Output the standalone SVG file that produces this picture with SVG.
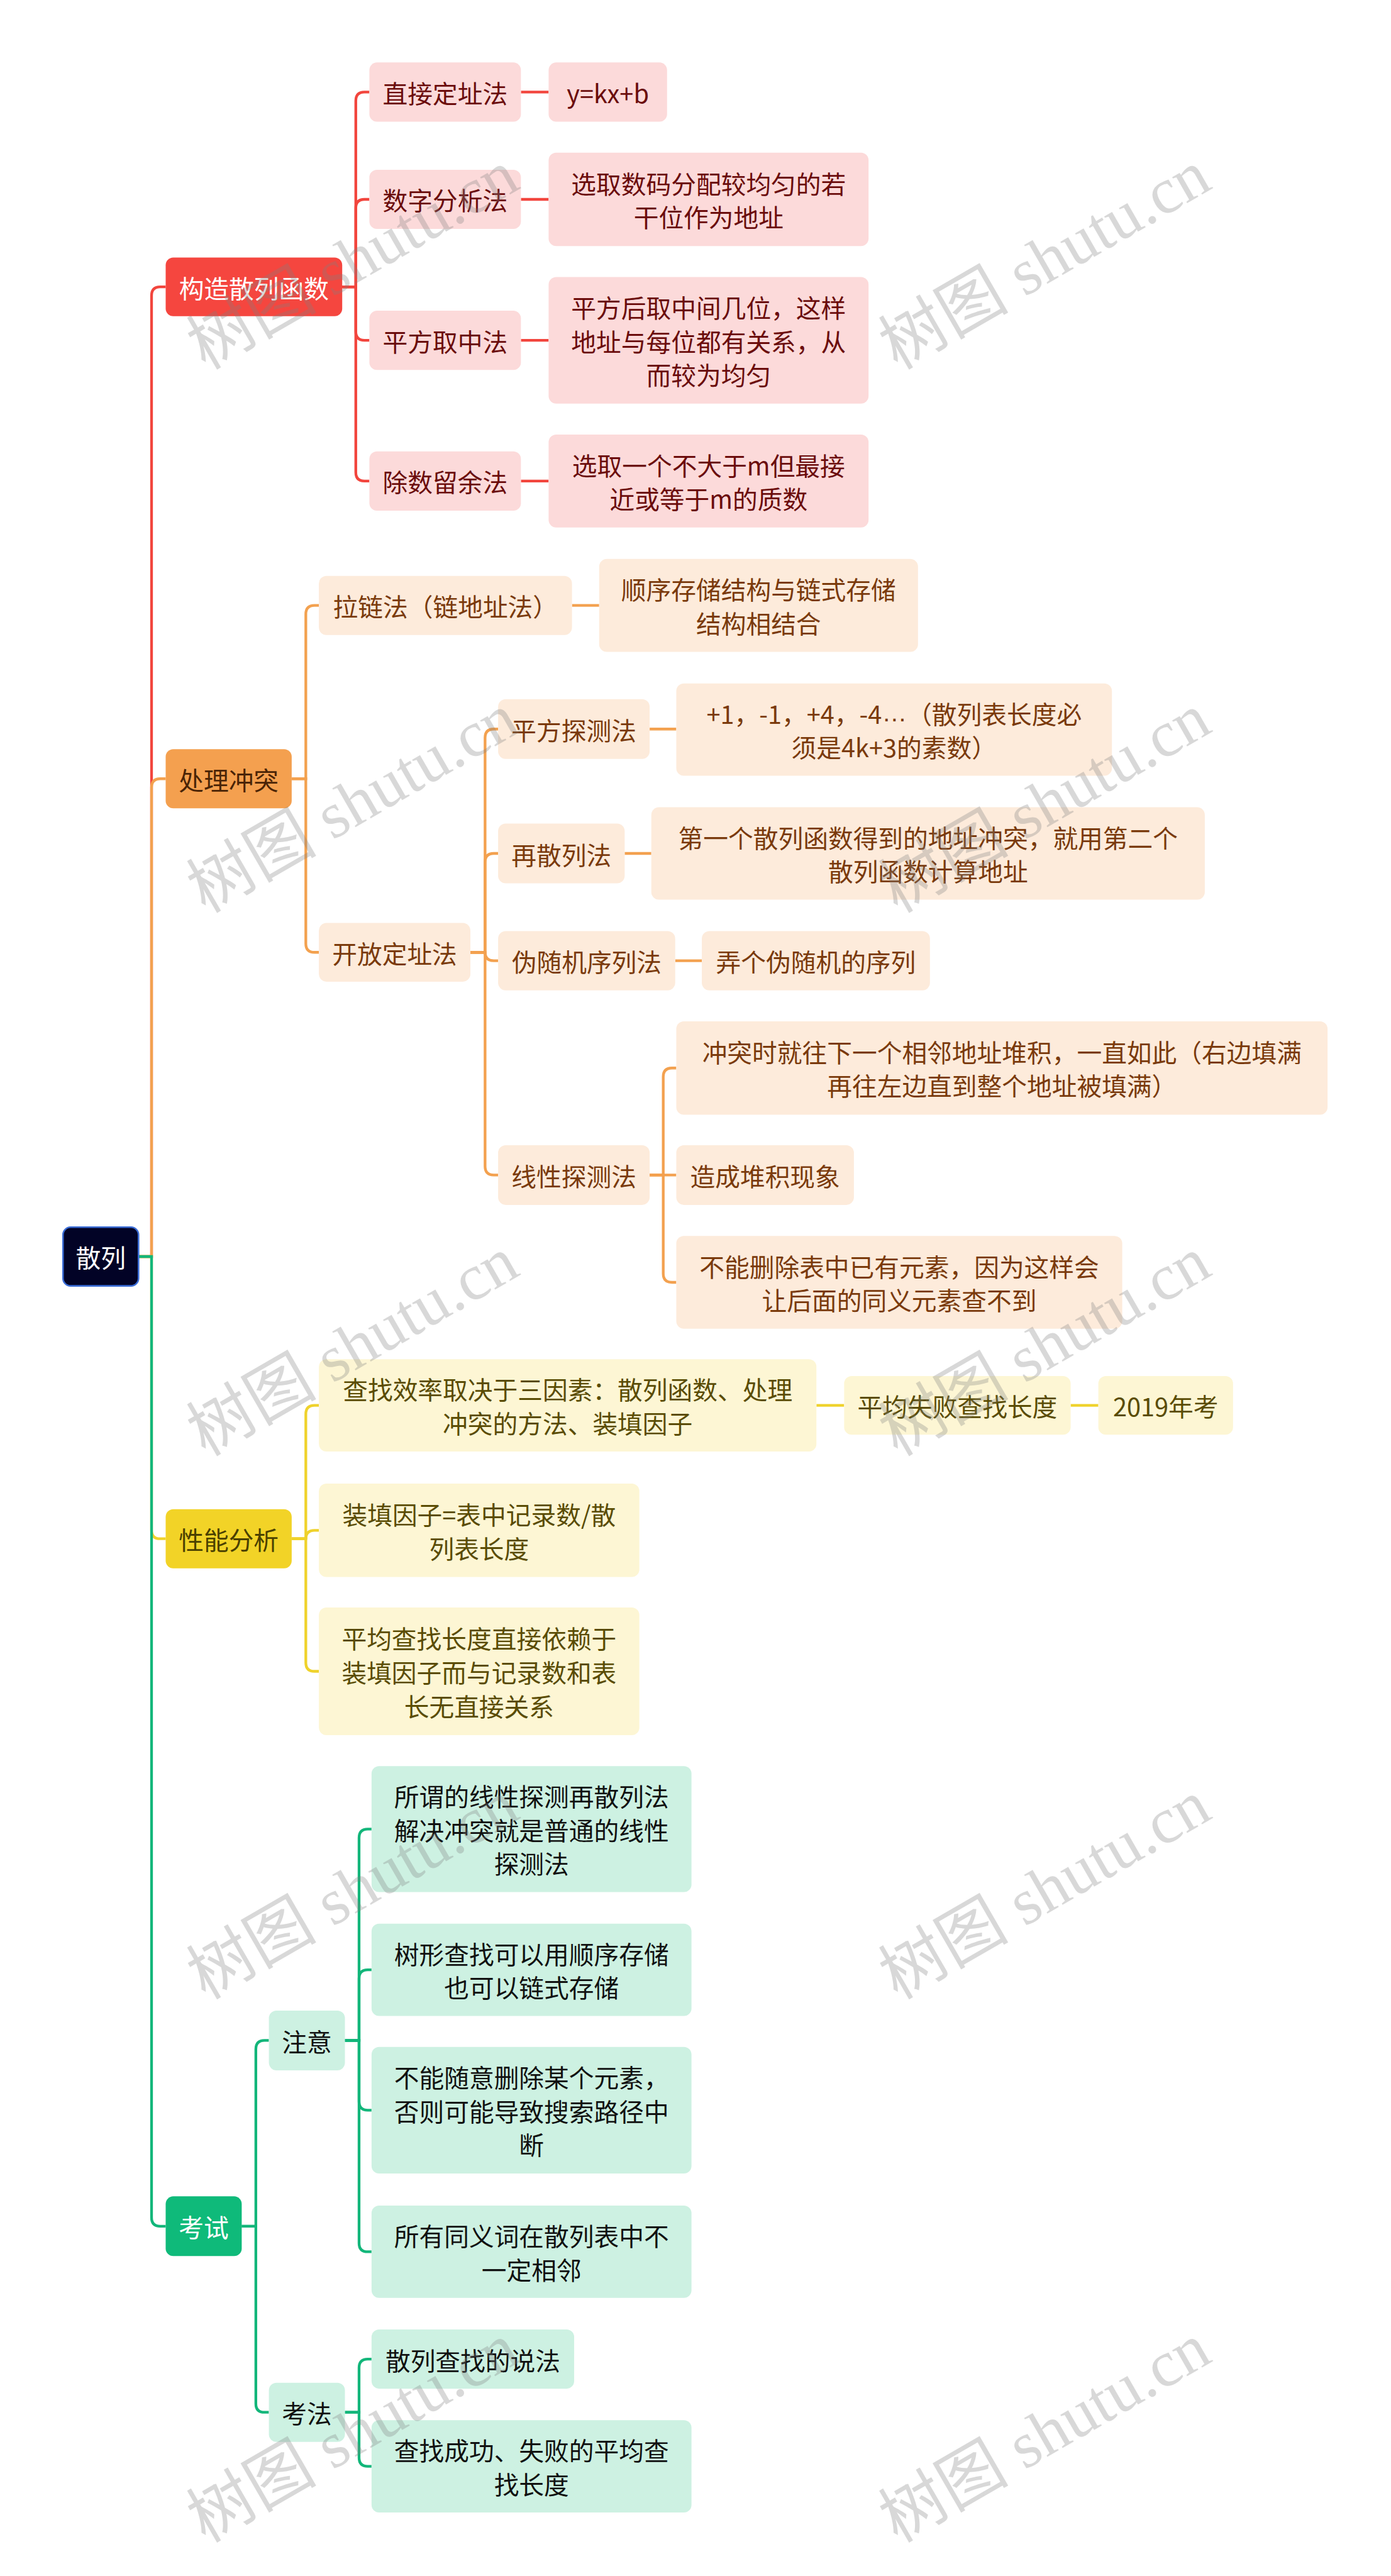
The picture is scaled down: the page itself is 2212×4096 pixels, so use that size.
<svg xmlns="http://www.w3.org/2000/svg" width="2212" height="4096" viewBox="0 0 2212 4096">
<style>
text{font-family:"Noto Sans CJK SC","Liberation Sans",sans-serif;font-size:46px;text-anchor:middle;dominant-baseline:central}
.c path{fill:none;stroke-width:5}
.r path{stroke:#f2453d}.o path{stroke:#f3a14f}.y path{stroke:#efd22b}.g path{stroke:#12b67a}
.pk rect{fill:#fcdada}.pk text{fill:#6b0c0c}
.pe rect{fill:#fdebdb}.pe text{fill:#7a3a0c}
.ye rect{fill:#fdf6d4}.ye text{fill:#5a4c04}
.gr rect{fill:#cdf1e2}.gr text{fill:#111111}
.lat{font-family:"Liberation Sans",sans-serif}
.wm{font-family:"Liberation Serif","Noto Sans CJK SC",serif;font-size:120px;fill:#808080;opacity:.3;text-anchor:start;dominant-baseline:auto}
</style>
<rect width="2212" height="4096" fill="#ffffff"/>
<g transform="scale(0.8638)">
<g id="connectors" class="c">
<g class="r">
<path d="M255 2313 H279 V544 Q279 528 295 528 H305"/>
<path d="M630 528 H655 V185.5 Q655 169.5 671 169.5 H680"/>
<path d="M630 528 H655 V383 Q655 367 671 367 H680"/>
<path d="M630 528 H655 V610.5 Q655 626.5 671 626.5 H680"/>
<path d="M630 528 H655 V869.5 Q655 885.5 671 885.5 H680"/>
<path d="M959 169.5 H1010"/><path d="M959 367 H1010"/><path d="M959 626.5 H1010"/><path d="M959 885.5 H1010"/>
</g>
<g class="o">
<path d="M255 2313 H279 V1449.5 Q279 1433.5 295 1433.5 H305"/>
<path d="M537 1433.5 H563 V1130.5 Q563 1114.5 579 1114.5 H587"/>
<path d="M537 1433.5 H563 V1737 Q563 1753 579 1753 H587"/>
<path d="M1053 1114.5 H1103"/>
<path d="M866 1753 H893 V1358 Q893 1342 909 1342 H917"/>
<path d="M866 1753 H893 V1587 Q893 1571 909 1571 H917"/>
<path d="M866 1753 H893 V1752.5 Q893 1768.5 909 1768.5 H917"/>
<path d="M866 1753 H893 V2147 Q893 2163 909 2163 H917"/>
<path d="M1196 1342 H1245"/><path d="M1150 1571 H1199"/><path d="M1243 1768.5 H1292"/>
<path d="M1196 2163 H1221 V1982 Q1221 1966 1237 1966 H1245"/>
<path d="M1196 2163 H1245"/>
<path d="M1196 2163 H1221 V2344.5 Q1221 2360.5 1237 2360.5 H1245"/>
</g>
<g class="y">
<path d="M255 2313 H279 V2816.5 Q279 2832.5 295 2832.5 H305"/>
<path d="M537 2832.5 H563 V2603 Q563 2587 579 2587 H587"/>
<path d="M537 2832.5 H563 V2833 Q563 2817 579 2817 H587"/>
<path d="M537 2832.5 H563 V3060.5 Q563 3076.5 579 3076.5 H587"/>
<path d="M1503 2587 H1554"/><path d="M1971 2587 H2022"/>
</g>
<g class="g">
<path d="M255 2313 H279 V4082 Q279 4098 295 4098 H305"/>
<path d="M445 4098 H471 V3772 Q471 3756 487 3756 H495"/>
<path d="M445 4098 H471 V4424.5 Q471 4440.5 487 4440.5 H495"/>
<path d="M635 3756 H661 V3383 Q661 3367 677 3367 H684"/>
<path d="M635 3756 H661 V3642 Q661 3626 677 3626 H684"/>
<path d="M635 3756 H661 V3868.5 Q661 3884.5 677 3884.5 H684"/>
<path d="M635 3756 H661 V4129 Q661 4145 677 4145 H684"/>
<path d="M635 4440.5 H661 V4358.5 Q661 4342.5 677 4342.5 H684"/>
<path d="M635 4440.5 H661 V4524 Q661 4540 677 4540 H684"/>
</g>
</g>

<g id="root"><rect x="116" y="2259" width="139" height="108" rx="14" fill="#020326" stroke="#3a6cd6" stroke-width="3"/><text x="185.5" y="2313" fill="#ffffff">散列</text></g>

<g id="n-gouzao"><rect x="305" y="474" width="325" height="108" rx="14" fill="#f5463f"/><text x="467.5" y="528" fill="#ffffff">构造散列函数</text></g>
<g id="n-chuli"><rect x="305" y="1379" width="232" height="109" rx="14" fill="#f4a04f"/><text x="421" y="1433.5" fill="#4a2406">处理冲突</text></g>
<g id="n-xingneng"><rect x="305" y="2778" width="232" height="109" rx="14" fill="#f2d327"/><text x="421" y="2832.5" fill="#4a4000">性能分析</text></g>
<g id="n-kaoshi"><rect x="305" y="4043" width="140" height="110" rx="14" fill="#0fba7a"/><text x="375" y="4098" fill="#ffffff">考试</text></g>

<g class="pk">
<g id="n-zhijie"><rect x="680" y="115" width="279" height="109" rx="14"/><text x="819.5" y="169.5">直接定址法</text></g>
<g id="n-ykxb"><rect x="1010" y="115" width="218" height="109" rx="14"/><text x="1119" y="169.5">y=kx+b</text></g>
<g id="n-shuzi"><rect x="680" y="312.5" width="279" height="109" rx="14"/><text x="819.5" y="367">数字分析法</text></g>
<g id="n-shuzi-d"><rect x="1010" y="281" width="589" height="172" rx="14"/><text x="1304.5" y="336">选取数码分配较均匀的若</text><text x="1304.5" y="398">干位作为地址</text></g>
<g id="n-pingfang"><rect x="680" y="572" width="279" height="109" rx="14"/><text x="819.5" y="626.5">平方取中法</text></g>
<g id="n-pingfang-d"><rect x="1010" y="510" width="589" height="233" rx="14"/><text x="1304.5" y="564.5">平方后取中间几位，这样</text><text x="1304.5" y="626.5">地址与每位都有关系，从</text><text x="1304.5" y="688.5">而较为均匀</text></g>
<g id="n-chushu"><rect x="680" y="831" width="279" height="109" rx="14"/><text x="819.5" y="885.5">除数留余法</text></g>
<g id="n-chushu-d"><rect x="1010" y="800" width="589" height="171" rx="14"/><text x="1304.5" y="854.5">选取一个不大于m但最接</text><text x="1304.5" y="916.5">近或等于m的质数</text></g>
</g>

<g class="pe">
<g id="n-lalian"><rect x="587" y="1060" width="466" height="109" rx="14"/><text x="820" y="1114.5">拉链法（链地址法）</text></g>
<g id="n-lalian-d"><rect x="1103" y="1029" width="587" height="171" rx="14"/><text x="1396.5" y="1083.5">顺序存储结构与链式存储</text><text x="1396.5" y="1145.5">结构相结合</text></g>
<g id="n-kaifang"><rect x="587" y="1699" width="279" height="108" rx="14"/><text x="726.5" y="1753">开放定址法</text></g>
<g id="n-pftc"><rect x="917" y="1287" width="279" height="110" rx="14"/><text x="1056.5" y="1342">平方探测法</text></g>
<g id="n-pftc-d"><rect x="1245" y="1258" width="802" height="170" rx="14"/><text x="1646" y="1312">+1，-1，+4，-4<tspan class="lat">…</tspan>（散列表长度必</text><text x="1646" y="1374">须是4k+3的素数）</text></g>
<g id="n-zsl"><rect x="917" y="1516" width="233" height="110" rx="14"/><text x="1033.5" y="1571">再散列法</text></g>
<g id="n-zsl-d"><rect x="1199" y="1486" width="1019" height="170" rx="14"/><text x="1708.5" y="1540">第一个散列函数得到的地址冲突，就用第二个</text><text x="1708.5" y="1602">散列函数计算地址</text></g>
<g id="n-wsj"><rect x="917" y="1714" width="326" height="109" rx="14"/><text x="1080" y="1768.5">伪随机序列法</text></g>
<g id="n-wsj-d"><rect x="1292" y="1714" width="420" height="109" rx="14"/><text x="1502" y="1768.5">弄个伪随机的序列</text></g>
<g id="n-xxtc"><rect x="917" y="2108" width="279" height="110" rx="14"/><text x="1056.5" y="2163">线性探测法</text></g>
<g id="n-xxtc-1"><rect x="1245" y="1880" width="1199" height="172" rx="14"/><text x="1844.5" y="1935">冲突时就往下一个相邻地址堆积，一直如此（右边填满</text><text x="1844.5" y="1997">再往左边直到整个地址被填满）</text></g>
<g id="n-xxtc-2"><rect x="1245" y="2108" width="327" height="110" rx="14"/><text x="1408.5" y="2163">造成堆积现象</text></g>
<g id="n-xxtc-3"><rect x="1245" y="2275" width="821" height="171" rx="14"/><text x="1655.5" y="2329.5">不能删除表中已有元素，因为这样会</text><text x="1655.5" y="2391.5">让后面的同义元素查不到</text></g>
</g>

<g class="ye">
<g id="n-xiaolv"><rect x="587" y="2502" width="916" height="170" rx="14"/><text x="1045" y="2556">查找效率取决于三因素：散列函数、处理</text><text x="1045" y="2618">冲突的方法、装填因子</text></g>
<g id="n-pjsb"><rect x="1554" y="2533" width="417" height="108" rx="14"/><text x="1762.5" y="2587">平均失败查找长度</text></g>
<g id="n-2019"><rect x="2022" y="2533" width="248" height="108" rx="14"/><text x="2146" y="2587">2019年考</text></g>
<g id="n-zhuangtian"><rect x="587" y="2731" width="590" height="172" rx="14"/><text x="882" y="2786">装填因子=表中记录数/散</text><text x="882" y="2848">列表长度</text></g>
<g id="n-pjcz"><rect x="587" y="2959" width="590" height="235" rx="14"/><text x="882" y="3014.5">平均查找长度直接依赖于</text><text x="882" y="3076.5">装填因子而与记录数和表</text><text x="882" y="3138.5">长无直接关系</text></g>
</g>

<g class="gr">
<g id="n-zhuyi"><rect x="495" y="3701" width="140" height="110" rx="14"/><text x="565" y="3756">注意</text></g>
<g id="n-kaofa"><rect x="495" y="4386" width="140" height="109" rx="14"/><text x="565" y="4440.5">考法</text></g>
<g id="n-zy1"><rect x="684" y="3251" width="589" height="232" rx="14"/><text x="978.5" y="3305">所谓的线性探测再散列法</text><text x="978.5" y="3367">解决冲突就是普通的线性</text><text x="978.5" y="3429">探测法</text></g>
<g id="n-zy2"><rect x="684" y="3541" width="589" height="170" rx="14"/><text x="978.5" y="3595">树形查找可以用顺序存储</text><text x="978.5" y="3657">也可以链式存储</text></g>
<g id="n-zy3"><rect x="684" y="3768" width="589" height="233" rx="14"/><text x="978.5" y="3822.5">不能随意删除某个元素，</text><text x="978.5" y="3884.5">否则可能导致搜索路径中</text><text x="978.5" y="3946.5">断</text></g>
<g id="n-zy4"><rect x="684" y="4060" width="589" height="170" rx="14"/><text x="978.5" y="4114">所有同义词在散列表中不</text><text x="978.5" y="4176">一定相邻</text></g>
<g id="n-kf1"><rect x="684" y="4288" width="373" height="109" rx="14"/><text x="870.5" y="4342.5">散列查找的说法</text></g>
<g id="n-kf2"><rect x="684" y="4455" width="589" height="170" rx="14"/><text x="978.5" y="4509">查找成功、失败的平均查</text><text x="978.5" y="4571">找长度</text></g>
</g>

<g id="watermarks">
<text class="wm" x="378" y="682" transform="rotate(-30 378 682)">树图 shutu.cn</text>
<text class="wm" x="1652" y="682" transform="rotate(-30 1652 682)">树图 shutu.cn</text>
<text class="wm" x="378" y="1682" transform="rotate(-30 378 1682)">树图 shutu.cn</text>
<text class="wm" x="1652" y="1682" transform="rotate(-30 1652 1682)">树图 shutu.cn</text>
<text class="wm" x="378" y="2682" transform="rotate(-30 378 2682)">树图 shutu.cn</text>
<text class="wm" x="1652" y="2682" transform="rotate(-30 1652 2682)">树图 shutu.cn</text>
<text class="wm" x="378" y="3682" transform="rotate(-30 378 3682)">树图 shutu.cn</text>
<text class="wm" x="1652" y="3682" transform="rotate(-30 1652 3682)">树图 shutu.cn</text>
<text class="wm" x="378" y="4682" transform="rotate(-30 378 4682)">树图 shutu.cn</text>
<text class="wm" x="1652" y="4682" transform="rotate(-30 1652 4682)">树图 shutu.cn</text>
</g>
</g>
</svg>
